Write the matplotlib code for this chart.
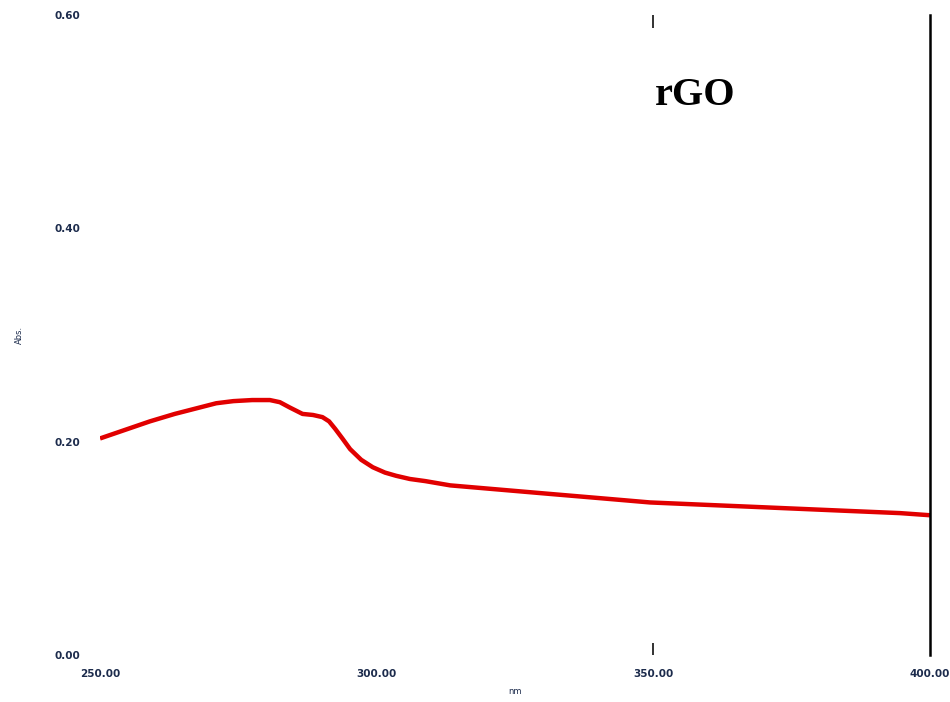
import numpy as np
import matplotlib.pyplot as plt

# absorbance spectrum of rGO, read at intervals along the trace
wavelength = [250.0, 254.5, 259.0, 263.5, 268.0, 271.0, 274.1, 277.5, 280.7, 282.5,
              284.3, 286.6, 288.5, 290.2, 291.4, 292.5, 293.8, 295.2, 297.2, 299.3,
              301.5, 303.5, 306.0, 308.8, 313.3, 322.3, 331.3, 340.4, 349.4, 358.4,
              367.5, 376.5, 385.5, 394.6, 400.0]
absorbance = [0.203, 0.211, 0.219, 0.226, 0.232, 0.236, 0.238, 0.239, 0.239, 0.237,
              0.232, 0.226, 0.225, 0.223, 0.219, 0.212, 0.203, 0.193, 0.183, 0.176,
              0.171, 0.168, 0.165, 0.163, 0.159, 0.155, 0.151, 0.147, 0.143, 0.141,
              0.139, 0.137, 0.135, 0.133, 0.131]

xticks = [250, 300, 350, 400]
yticks = [0.0, 0.2, 0.4, 0.6]
label_color = '#1c2b4c'

fig = plt.figure(figsize=(9.5, 7.02), dpi=100)
ax = fig.add_axes([0.1053, 0.0670, 0.9789 - 0.1053, 0.9786 - 0.0670])

ax.plot(wavelength, absorbance, color='#e10000', linewidth=3.2,
        solid_capstyle='butt', solid_joinstyle='round')

ax.set_xlim(250, 400)
ax.set_ylim(0, 0.6)

for side in ['left', 'top', 'bottom']:
    ax.spines[side].set_visible(False)
ax.spines['right'].set_color('black')
ax.spines['right'].set_linewidth(1.8)

ax.set_xticks(xticks)
ax.set_xticklabels(['%.2f' % v for v in xticks])
ax.set_yticks(yticks)
ax.set_yticklabels(['%.2f' % v for v in yticks])
ax.tick_params(axis='both', length=0, labelsize=7.5, labelcolor=label_color)
ax.tick_params(axis='x', pad=10)
ax.tick_params(axis='y', pad=14)
for lab in ax.get_xticklabels() + ax.get_yticklabels():
    lab.set_fontweight('bold')

# small marks at 350 nm, top and bottom
ax.xaxis.remove_overlapping_locs = False
ax.set_xticks([350], minor=True)
ax.tick_params(axis='x', which='minor', top=True, bottom=True, direction='in',
               length=9, width=1.3, color='#222222')

ax.set_xlabel('nm', fontsize=6, color=label_color, labelpad=6)
ax.set_ylabel('Abs.', fontsize=6, color=label_color, labelpad=22)

ax.text(0.717, 0.875, 'rGO', transform=ax.transAxes, fontsize=29,
        fontweight='bold', family='Liberation Serif', va='center', ha='center')

fig.savefig('out.png', dpi=100)
